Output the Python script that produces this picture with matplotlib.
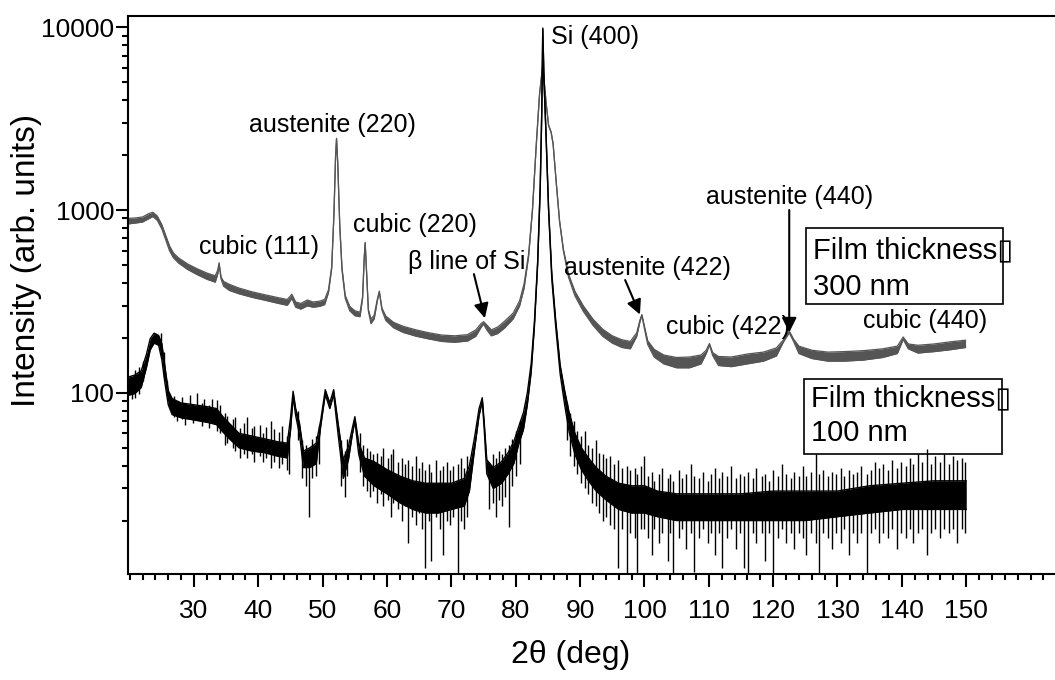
import numpy as np
import matplotlib
matplotlib.use('Agg')
import matplotlib.pyplot as plt
from matplotlib.ticker import MultipleLocator, NullFormatter, FixedLocator
from matplotlib.patches import Rectangle

plt.rcParams['font.family'] = ['Liberation Sans', 'DejaVu Sans']

# 300 nm film (grey): 2theta, lower and upper edge of the noisy trace
gray_x = [19.8, 21, 22, 23, 23.6, 24.3, 25.0, 25.6, 26.2, 26.8, 27.6, 29, 30.5, 32,
          33.3, 33.7, 33.9, 34.2, 34.6, 35.5, 37, 39, 41, 43, 44.5, 45.2, 45.8, 46.6,
          47.6, 48.5, 49.5, 50.3, 50.9, 51.4, 51.75, 52.0, 52.15, 52.35, 52.65, 53.0,
          53.5, 54.2, 55.0, 55.8, 56.2, 56.45, 56.6, 56.8, 57.1, 57.5, 58.0, 58.5, 58.8,
          59.2, 59.8, 61, 62.5, 64.5, 66.5, 68.5, 70.5, 72.5, 73.8, 74.6, 75.0, 75.5,
          76.2, 77.2, 78.3, 79.6, 80.6, 81.3, 82.0, 82.6, 83.2, 83.7, 84.2, 84.7, 85.1,
          85.5, 85.8, 86.3, 86.8, 87.4, 88.2, 89.2, 90.5, 92, 93.5, 95, 96.5, 97.8, 98.8,
          99.3, 99.6, 100.0, 100.5, 101.5, 103, 105, 107, 108.8, 109.6, 110.1, 110.6,
          111.5, 113.5, 116, 118.5, 120.5, 121.6, 122.5, 123.2, 124, 126, 128.5, 131,
          134, 137, 139.3, 140.2, 141.0, 142.5, 145, 147.5, 149.9]
gray_lo = [840, 850, 860, 898, 922, 878, 788, 688, 598, 548, 513, 473, 443, 418,
           403, 448, 505, 420, 383, 363, 348, 333, 321, 309, 301, 329, 294, 287,
           299, 294, 297, 304, 354, 480, 950, 1950, 2450, 1750, 820, 468,
           329, 281, 264, 261, 330, 540, 660, 470, 280, 239, 254, 320, 356,
           284, 249, 227, 214, 204, 197, 191, 189, 192, 204, 228, 238, 221,
           205, 211, 227, 254, 299, 374, 560, 1000, 2300, 4300, 6200, 3900, 2900,
           2650, 2300, 1400, 870, 599, 429, 339, 279, 234, 204, 187, 177, 174, 204,
           245, 265, 224, 184, 157, 144, 137, 137, 144, 164, 183, 160,
           141, 139, 144, 149, 159, 190, 213, 190, 164, 154, 149, 149,
           151, 156, 164, 196, 174, 165, 168, 172, 177]
gray_hi = [900, 906, 916, 957, 972, 927, 832, 727, 637, 582, 547, 507, 477, 452,
           437, 470, 515, 430, 407, 392, 374, 357, 344, 332, 324, 346, 314, 308,
           322, 314, 317, 324, 366, 490, 960, 1980, 2470, 1770, 830, 482,
           341, 297, 281, 276, 336, 545, 665, 475, 286, 253, 266, 326, 360,
           291, 263, 243, 231, 221, 213, 207, 205, 208, 221, 239, 245, 235,
           221, 229, 247, 273, 319, 396, 575, 1010, 2320, 4320, 6250, 3920, 2920,
           2670, 2320, 1410, 880, 613, 446, 359, 299, 253, 223, 205, 195, 191, 213,
           250, 268, 231, 193, 173, 161, 156, 157, 161, 171, 186, 166,
           158, 157, 163, 167, 176, 195, 218, 196, 180, 171, 167, 168,
           170, 174, 180, 202, 185, 182, 185, 190, 194]

# 100 nm film (black): body of the noisy band
black_x = [19.8, 20.8, 21.8, 22.6, 23.2, 23.8, 24.5, 25.0, 25.5, 26.0, 26.6, 28, 30, 32,
           33.5, 34.5, 35.5, 37, 39, 41, 43, 44.5, 45.0, 45.4, 45.8, 46.4, 47.0, 48, 49,
           49.7, 50.4, 51.1, 51.7, 52.4, 53.2, 54.0, 54.6, 55.0, 55.6, 56.5, 58, 60, 62,
           64, 66, 68, 70, 72, 72.8, 73.6, 74.3, 74.8, 75.1, 75.5, 76.5, 77.8, 78.8, 79.7,
           80.5, 81.2, 81.8, 82.4, 82.9, 83.4, 83.8, 84.05, 84.2, 84.4, 84.7, 85.1, 85.6,
           86.2, 86.9, 87.6, 88.3, 89.2, 90.2, 91.3, 92.5, 94, 96, 98, 100, 102, 105,
           110, 115, 120, 125, 130, 135, 140, 145, 150]
black_lo = [97, 99, 107, 137, 172, 187, 182, 152, 112, 86, 76, 73, 71, 69,
            67, 61, 56, 50, 48, 47, 45, 44, 62, 95, 75, 59, 39, 39, 41,
            66, 98, 82, 98, 59, 34, 43, 59, 70, 46, 35, 31, 28, 25,
            23, 22, 22, 23, 24, 29, 49, 75, 90, 63, 36, 30, 32, 36, 41,
            53, 63, 86, 130, 230, 500, 1300, 3500, 9800, 5000, 2600, 1000, 420,
            232, 127, 86, 61, 46, 38, 33, 29, 26, 23, 22, 22, 21, 20,
            20, 20, 20, 20, 21, 22, 23, 23, 23]
black_hi = [122, 125, 132, 162, 198, 212, 206, 186, 138, 103, 93, 88, 86, 84,
            82, 74, 68, 60, 58, 56, 54, 53, 73, 102, 82, 68, 48, 50, 53,
            71, 104, 88, 104, 68, 43, 51, 64, 74, 53, 44, 42, 38, 35,
            33, 32, 32, 32, 34, 40, 57, 82, 94, 69, 43, 39, 42, 47, 54,
            66, 78, 100, 145, 245, 520, 1330, 3550, 9900, 5050, 2650, 1030, 450,
            252, 142, 103, 78, 60, 50, 44, 39, 35, 32, 31, 31, 29, 28,
            28, 28, 29, 29, 29, 31, 32, 33, 33]

# single noise strokes of the black trace: (2theta, bottom, top)
black_strokes = [
    (20.3, 92, 120), (20.9, 94, 133), (21.5, 99, 138), (22.1, 116, 150),
    (24.9, 160, 212), (25.4, 122, 168), (25.8, 96, 116),
    (26.9, 74, 96), (27.4, 70, 90), (28.2, 72, 95), (28.6, 67, 88), (29.4, 73, 97),
    (29.9, 68, 86), (30.4, 72, 100), (31.2, 66, 88), (31.6, 70, 92), (32.4, 64, 86),
    (32.8, 68, 93), (33.5, 62, 91), (34.0, 60, 86), (34.8, 52, 78), (35.2, 53, 75),
    (36.0, 50, 72), (36.4, 48, 74), (37.2, 44, 64), (37.8, 46, 68), (38.3, 44, 74),
    (39.0, 46, 64), (39.4, 42, 66), (40.2, 45, 67), (40.8, 42, 60), (41.2, 44, 65),
    (42.0, 39, 70), (42.4, 42, 63), (43.2, 39, 61), (43.6, 41, 66), (44.4, 38, 58),
    (44.8, 36, 56),
    (46.2, 55, 80), (46.8, 34, 55), (47.4, 31, 52), (47.9, 21, 50), (48.4, 34, 56),
    (49.0, 35, 58), (49.4, 41, 66), (52.9, 31, 55), (53.4, 27, 48), (53.8, 35, 56),
    (55.8, 37, 60), (56.3, 31, 52), (56.9, 29, 50),
    (57.3, 27, 48), (57.8, 29, 46), (58.5, 25, 47), (59.0, 28, 45), (59.4, 24, 50),
    (60.1, 26, 44), (60.6, 21, 46), (61.0, 25, 49), (61.7, 23, 42), (62.3, 20, 44),
    (62.8, 24, 41), (63.2, 15, 43), (63.9, 21, 40), (64.5, 19, 45), (65.0, 22, 39),
    (65.4, 18, 42), (65.9, 11, 38), (66.5, 20, 41), (66.9, 12, 37), (67.6, 21, 43),
    (68.2, 18, 38), (68.7, 13, 40), (69.3, 20, 42), (69.8, 19, 38), (70.3, 21, 40),
    (71.0, 10.2, 41), (71.5, 20, 44), (72.0, 18, 39), (72.5, 21, 45),
    (75.9, 23, 42), (76.4, 25, 46), (76.9, 21, 44), (77.4, 26, 48), (77.9, 24, 46),
    (78.4, 27, 50), (78.9, 18.5, 52), (79.4, 31, 56), (80.0, 35, 62), (80.6, 41, 70),
    (87.9, 55, 88), (88.4, 45, 78), (89.0, 40, 70), (89.5, 36, 62), (90.2, 32, 58),
    (90.8, 30, 62), (91.3, 28, 52), (91.9, 25, 50), (92.4, 24, 55), (93.0, 22, 47),
    (93.5, 20, 46), (94.1, 21, 44), (94.7, 19, 45), (95.3, 18, 41), (95.9, 11, 43),
    (96.5, 18, 39), (97.3, 10.3, 40), (97.8, 17, 38), (98.5, 16, 39), (98.9, 10.3, 36),
    (99.5, 18, 40), (100.0, 18, 45),
    (100.5, 16, 35), (101.1, 13, 37), (101.5, 18, 33), (102.3, 15, 36), (102.8, 17, 39),
    (103.6, 12, 34), (104.0, 17, 36), (104.5, 10.3, 33), (105.3, 16, 38), (105.9, 18, 34),
    (106.4, 14, 36), (107.2, 17, 41), (107.7, 10.5, 35), (108.5, 16, 34), (109.1, 18, 37),
    (109.8, 15, 33), (110.3, 17, 36), (110.9, 13, 39), (111.6, 17, 34), (112.1, 11, 37),
    (112.9, 16, 35), (113.5, 18, 40), (114.2, 14, 34), (114.8, 17, 36), (115.5, 11, 35),
    (116.1, 10.3, 37), (116.9, 17, 34), (117.4, 15, 39), (118.2, 17, 35), (118.8, 12, 36),
    (119.3, 17, 33), (120.0, 10.3, 38), (120.8, 16, 35), (121.3, 18, 41), (122.0, 15, 36),
    (122.7, 17, 34), (123.2, 14, 37), (124.0, 17, 35), (124.6, 16, 40), (125.1, 13, 35),
    (125.9, 17, 37), (126.6, 15, 46), (127.2, 10.3, 36), (127.8, 17, 38), (128.5, 16, 35),
    (129.2, 14, 37), (129.8, 17, 36), (130.5, 15, 39), (131.0, 18, 35), (131.8, 13, 38),
    (132.4, 17, 36), (133.1, 15, 37), (133.7, 17, 40), (134.6, 10.3, 36), (135.2, 17, 38),
    (135.8, 18, 42), (136.5, 15, 39), (137.1, 17, 41), (137.9, 16, 38), (138.5, 18, 43),
    (139.2, 14, 39), (139.9, 17, 42), (140.6, 16, 40), (141.2, 18, 44), (141.8, 15, 41),
    (142.5, 17, 46), (143.1, 18, 42), (143.9, 13, 49), (144.5, 17, 41), (145.2, 18, 45),
    (145.9, 16, 42), (146.5, 18, 46), (147.3, 17, 41), (147.9, 18, 45), (148.6, 15, 43),
    (149.3, 18, 44), (149.8, 17, 42),
]

# peak labels: text, x, y (data units)
labels = ['austenite (220)', 'cubic (111)', 'cubic (220)', 'β line of Si',
          'austenite (422)', 'austenite (440)', 'cubic (422)', 'cubic (440)']
label_x = [51.5, 40.1, 64.3, 72.4, 100.4, 122.5, 113.0, 143.6]
label_y = [2920, 627, 828, 519, 481, 1178, 229, 247]

# arrows: tail -> tip
arrow_tail = [(73.5, 446), (97.0, 414), (122.5, 1000)]
arrow_tip = [(75.2, 256), (99.3, 268), (122.5, 214)]

GRAY = '#555555'


def main():
    fig = plt.figure(figsize=(10.55, 6.8), dpi=100)
    ax = fig.add_axes([0.1213, 0.1559, 0.8787, 0.821])

    ax.fill_between(gray_x, gray_lo, gray_hi, color=GRAY, lw=0)
    ax.plot(gray_x, gray_lo, color=GRAY, lw=0.9)
    ax.plot(gray_x, gray_hi, color=GRAY, lw=0.9)

    ax.fill_between(black_x, black_lo, black_hi, color='k', lw=0)
    ax.plot(black_x, black_lo, color='k', lw=1.0)
    ax.plot(black_x, black_hi, color='k', lw=1.0)
    sx, slo, shi = zip(*black_strokes)
    ax.vlines(sx, slo, shi, color='k', lw=1.0)

    ax.set_yscale('log')
    ax.set_xlim(19.74, 163.8)
    ax.set_ylim(10.2, 11570)

    ax.xaxis.set_major_locator(FixedLocator(range(30, 151, 10)))
    ax.xaxis.set_minor_locator(MultipleLocator(2))
    ax.set_yticks([100, 1000, 10000])
    ax.set_yticklabels(['100', '1000', '10000'])
    ax.yaxis.set_minor_formatter(NullFormatter())

    ax.tick_params(which='both', direction='out', width=1.5, labelsize=19)
    ax.tick_params(which='major', length=9)
    ax.tick_params(which='minor', length=4.5)
    ax.tick_params(axis='x', which='major', pad=9)
    ax.tick_params(axis='y', which='major', pad=1)

    for side in ['left', 'bottom', 'top']:
        ax.spines[side].set_linewidth(1.5)
    ax.spines['right'].set_visible(False)

    ax.set_xlabel('2θ (deg)', fontsize=23)
    ax.set_ylabel('Intensity (arb. units)', fontsize=24)
    ax.xaxis.set_label_coords(0.477, -0.118)
    ax.yaxis.set_label_coords(-0.093, 0.561)

    for text, x, y in zip(labels, label_x, label_y):
        ax.text(x, y, text, fontsize=18, ha='center', va='center')
    ax.text(85.5, 8850, 'Si (400)', fontsize=18, ha='left', va='center')

    for tail, tip in zip(arrow_tail, arrow_tip):
        ax.annotate('', xy=tip, xytext=tail,
                    arrowprops=dict(arrowstyle='-|>', color='k', lw=1.5,
                                    mutation_scale=22, shrinkA=0, shrinkB=0))

    # film thickness boxes
    for (bx, by, bw, bh), line2, ty1, ty2 in [((0.731, 0.484, 0.213, 0.136), '300 nm', 0.580, 0.514),
                                             ((0.729, 0.215, 0.2135, 0.134), '100 nm', 0.315, 0.2526)]:
        ax.add_patch(Rectangle((bx, by), bw, bh, transform=ax.transAxes,
                               fill=False, ec='k', lw=1.2))
        ax.text(bx + 0.008, ty1, 'Film thickness\u25af', transform=ax.transAxes,
                fontsize=21, ha='left', va='center')
        ax.text(bx + 0.008, ty2, line2, transform=ax.transAxes,
                fontsize=21, ha='left', va='center')

    fig.savefig('out.png', dpi=100)


if __name__ == '__main__':
    main()
